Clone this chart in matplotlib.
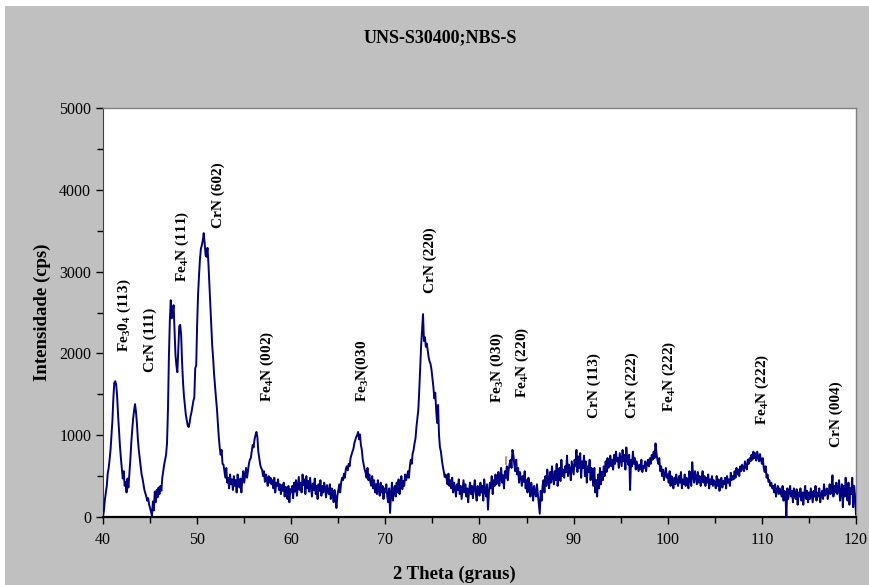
import numpy as np
import matplotlib
matplotlib.use("Agg")
import matplotlib.pyplot as plt
from matplotlib.patches import Rectangle
from matplotlib.ticker import MultipleLocator

plt.rcParams['font.family'] = ['Liberation Serif', 'DejaVu Serif']
plt.rcParams['mathtext.fontset'] = 'custom'
plt.rcParams['mathtext.rm'] = 'Liberation Serif:bold'
plt.rcParams['mathtext.default'] = 'rm'

# Diffractogram: 2-theta from 40 to 120 degrees, 0.1 degree step
two_theta_start = 40.0
two_theta_step = 0.1
intensity = [
    # 40
    0, 80, 210, 300, 380, 530, 600, 700, 820, 1000,
    1180, 1450, 1640, 1660, 1620, 1480, 1250, 1050, 870, 720,
    600, 470, 560, 380, 430, 300, 470, 360, 520, 690,
    900, 1060, 1200, 1300, 1380, 1290, 1150, 960, 820, 720,
    620, 520, 470, 400, 330, 290, 250, 200, 230, 150,
    110, 60, 20, 190, 80, 310, 180, 330, 240, 360,
    280, 380, 320, 480, 560, 640, 700, 760, 900, 1300,
    1950, 2400, 2650, 2430, 2500, 2590, 2300, 1980, 1850, 1770,
    2050, 2330, 2350, 2230, 1900, 1650, 1480, 1370, 1250, 1180,
    1120, 1100, 1150, 1230, 1280, 1350, 1420, 1460, 1820, 1850,
    # 50
    2350, 2720, 2950, 3150, 3280, 3320, 3380, 3470, 3350, 3200,
    3180, 3290, 3100, 2850, 2600, 2350, 2100, 1940, 1750, 1600,
    1460, 1330, 1150, 980, 850, 760, 820, 650, 640, 560,
    480, 600, 420, 480, 350, 520, 400, 460, 330, 500,
    380, 450, 300, 520, 410, 360, 470, 300, 450, 560,
    420, 510, 600, 480, 560, 650, 700, 720, 800, 880,
    850, 950, 1000, 1040, 980, 800, 720, 640, 600, 580,
    500, 560, 430, 520, 460, 380, 500, 420, 480, 400,
    450, 350, 480, 300, 420, 380, 460, 330, 400, 280,
    390, 320, 420, 250, 370, 300, 220, 380, 180, 340,
    # 60
    300, 380, 230, 420, 310, 450, 260, 380, 490, 330,
    420, 300, 520, 390, 460, 280, 500, 350, 440, 310,
    480, 360, 250, 410, 330, 470, 280, 380, 220, 400,
    320, 450, 260, 380, 300, 420, 350, 240, 390, 310,
    280, 400, 220, 350, 300, 180, 330, 250, 110, 260,
    330, 400, 300, 420, 480, 450, 530, 480, 590, 620,
    570, 650, 620, 720, 760, 800, 830, 900, 940, 980,
    1000, 1040, 950, 1010, 880, 820, 700, 640, 580, 540,
    480, 600, 450, 520, 430, 380, 500, 350, 450, 300,
    400, 280, 450, 330, 260, 420, 300, 380, 220, 350,
    # 70
    300, 400, 250, 180, 350, 50, 280, 420, 200, 330,
    380, 250, 420, 300, 460, 280, 370, 500, 340, 440,
    380, 520, 450, 490, 560, 480, 620, 700, 650, 780,
    820, 900, 960, 1100, 1200, 1310, 1550, 1840, 2100, 2300,
    2480, 2150, 2200, 2080, 2120, 2030, 1950, 1900, 1870, 1800,
    1700, 1590, 1450, 1520, 1300, 1150, 1370, 1000, 850, 800,
    700, 620, 560, 490, 520, 470, 400, 530, 380, 450,
    350, 480, 300, 420, 360, 250, 400, 330, 460, 280,
    380, 220, 340, 450, 300, 400, 250, 350, 180, 330,
    420, 280, 380, 230, 350, 450, 300, 200, 380, 330,
    # 80
    260, 420, 300, 380, 200, 460, 320, 250, 400, 90,
    300, 420, 350, 500, 280, 450, 380, 520, 400, 470,
    550, 380, 480, 600, 420, 510, 350, 560, 480, 620,
    450, 580, 650, 700, 600, 820, 760, 640, 560, 700,
    520, 600, 420, 550, 480, 380, 500, 430, 560, 350,
    450, 300, 480, 380, 250, 420, 330, 200, 380, 300,
    250, 400, 280, 150, 40, 320, 200, 380, 450, 300,
    500, 380, 580, 450, 350, 550, 420, 620, 480, 400,
    560, 450, 650, 380, 520, 600, 440, 700, 500, 580,
    480, 620, 550, 750, 500, 640, 580, 450, 680, 600,
    # 90
    520, 700, 620, 820, 550, 740, 600, 780, 480, 680,
    600, 750, 500, 680, 420, 620, 550, 700, 450, 600,
    520, 380, 600, 300, 450, 250, 520, 350, 600, 400,
    550, 450, 620, 500, 680, 550, 720, 600, 650, 750,
    620, 700, 580, 760, 650, 800, 680, 720, 600, 780,
    700, 620, 820, 680, 760, 580, 850, 700, 640, 760,
    330, 700, 620, 800, 650, 720, 580, 680, 620, 560,
    640, 580, 700, 550, 620, 600, 680, 560, 650, 700,
    620, 720, 650, 760, 700, 800, 720, 900, 780, 700,
    650, 720, 560, 620, 500, 580, 450, 520, 600, 480,
    # 100
    520, 420, 560, 380, 500, 450, 350, 480, 400, 520,
    440, 380, 500, 420, 550, 350, 460, 400, 520, 380,
    480, 420, 350, 560, 450, 380, 670, 500, 420, 560,
    480, 400, 550, 420, 500, 380, 460, 560, 420, 500,
    380, 480, 420, 520, 350, 460, 400, 500, 380, 450,
    420, 350, 500, 380, 460, 320, 420, 480, 360, 440,
    400, 480, 350, 500, 420, 460, 380, 540, 450, 500,
    460, 560, 480, 600, 520, 580, 500, 620, 560, 640,
    600, 560, 680, 620, 580, 700, 650, 720, 680, 760,
    700, 800, 720, 780, 690, 800, 740, 680, 770, 700,
    # 110
    650, 720, 600, 550, 620, 480, 520, 430, 450, 380,
    420, 350, 380, 300, 400, 250, 330, 380, 280, 350,
    300, 250, 380, 200, 320, 280, 0, 350, 220, 300,
    380, 250, 320, 180, 350, 280, 220, 340, 150, 300,
    250, 350, 200, 300, 150, 280, 380, 220, 320, 180,
    300, 220, 350, 260, 180, 320, 250, 380, 200, 300,
    250, 350, 180, 280, 320, 220, 400, 260, 300, 350,
    220, 300, 400, 280, 350, 510, 250, 380, 300, 420,
    280, 350, 450, 200, 320, 400, 120, 380, 250, 480,
    300, 200, 420, 150, 350, 280, 480, 120, 380, 250,
    # 120
    30,
]
two_theta = two_theta_start + two_theta_step * np.arange(len(intensity))

# Phase identification labels (text, 2-theta, intensity at label base)
peak_labels = [
    (r"Fe$_{3}$0$_{4}$ (113)", 42.3, 2020),
    ("CrN (111)", 45.0, 1770),
    (r"Fe$_{4}$N (111)", 48.4, 2870),
    ("CrN (602)", 52.2, 3530),
    (r"Fe$_{4}$N (002)", 57.5, 1400),
    (r"Fe$_{3}$N(030", 67.6, 1400),
    ("CrN (220)", 74.75, 2740),
    (r"Fe$_{3}$N (030)", 81.9, 1390),
    (r"Fe$_{4}$N (220)", 84.5, 1450),
    ("CrN (113)", 92.2, 1210),
    ("CrN (222)", 96.2, 1210),
    (r"Fe$_{4}$N (222)", 100.15, 1280),
    (r"Fe$_{4}$N (222)", 110.1, 1120),
    ("CrN (004)", 117.9, 860),
]

x_ticks = [40, 50, 60, 70, 80, 90, 100, 110, 120]
y_ticks = [0, 1000, 2000, 3000, 4000, 5000]

W, H = 870, 585
fig = plt.figure(figsize=(W / 100, H / 100), dpi=100, facecolor='white')
chart_bg = Rectangle((5 / W, 0), 1 - 5 / W, 1 - 6 / H,
                     transform=fig.transFigure, facecolor='#C0C0C0',
                     edgecolor='none', zorder=-5)
fig.add_artist(chart_bg)

ax = fig.add_axes([103 / W, 1 - 517 / H, (856 - 103) / W, (517 - 108) / H])
ax.set_zorder(1)
ax.set_facecolor('white')
ax.plot(two_theta, intensity, color='#000080', lw=1.4, zorder=3)

ax.set_xlim(40, 120)
ax.set_ylim(0, 5000)
ax.set_xticks(x_ticks)
ax.set_yticks(y_ticks)
ax.xaxis.set_minor_locator(MultipleLocator(5))
ax.yaxis.set_minor_locator(MultipleLocator(500))
ax.tick_params(axis='both', which='both', direction='out', color='black',
               labelsize=11.5, width=1)
ax.tick_params(axis='both', which='major', length=5)
ax.tick_params(axis='both', which='minor', length=4)
ax.tick_params(axis='x', pad=6)

for side in ('top', 'right'):
    ax.spines[side].set_color('#808080')
    ax.spines[side].set_linewidth(1.0)
ax.spines['left'].set_color('#404040')
ax.spines['bottom'].set_color('black')
ax.spines['bottom'].set_linewidth(1.6)

fig.text(454 / W, 1 - 574 / H, "2 Theta (graus)", ha='center', va='center',
         fontsize=13.5, fontweight='bold')
fig.text(42 / W, 1 - 312 / H, "Intensidade (cps)", ha='center', va='center',
         rotation=90, fontsize=13.5, fontweight='bold')
fig.text(440 / W, 1 - 38 / H, "UNS-S30400;NBS-S", ha='center', va='center',
         fontsize=13, fontweight='bold')

for text, x, y in peak_labels:
    ax.text(x, y, text, rotation=90, ha='center', va='bottom',
            fontsize=11, fontweight='bold', zorder=4)

# small reference tick near the Fe3N (030) position
ax.plot([82.85, 82.85], [650, 730], color='#C07890', lw=1.2, zorder=2)

fig.savefig("out.png", dpi=100, facecolor=fig.get_facecolor())
